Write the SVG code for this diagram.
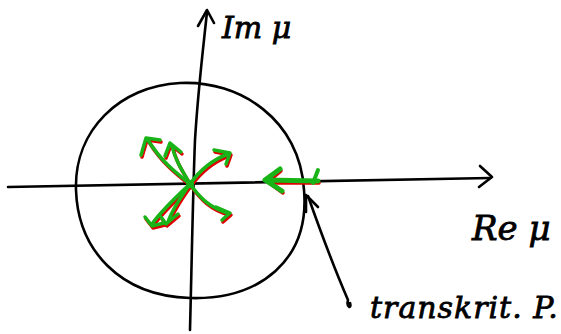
<svg xmlns="http://www.w3.org/2000/svg" width="561" height="334" viewBox="0 0 561 334">
<style>
.ink{fill:none;stroke:#000;stroke-width:2.6;stroke-linecap:round;stroke-linejoin:round}
.red{fill:none;stroke:#e00000;stroke-width:3.5;stroke-linecap:round;stroke-linejoin:round}
.grn{fill:none;stroke:#18b418;stroke-width:3.5;stroke-linecap:round;stroke-linejoin:round}
.hw{font-family:"DejaVu Serif","Liberation Serif",serif;font-style:italic;fill:#000;stroke:#000;stroke-width:0.8}
</style>
<rect width="561" height="334" fill="#fff"/>
<g id="connectors">
<path class="ink" d="M8,187 C120,186 300,182 490,178"/>
<path class="ink" d="M480,166 L492,177 L479,187"/>
<path class="ink" d="M190,330 C192,250 193,190 195,140 C198,90 203,50 207,12"/>
<path class="ink" d="M198,26 L207,10 L214,23"/>
<path class="ink" d="M350,303 C352,309 346,308 348,300 C335,270 320,230 308,196"/>
<path class="ink" d="M306,195 L306,212 M307,196 L318,207"/>
</g>
<g id="circle">
<path class="ink" d="M180,83 C240,80 300,120 304,190 C310,260 260,300 190,298 C120,296 78,250 76,190 C74,130 120,86 180,83 Z"/>
</g>
<g id="arrows">
<g transform="translate(1,2)">
<path class="red" d="M190,184 C175,172 160,160 148,140 M141,155 L146,138 L160,140"/>
<path class="red" d="M190,184 C182,170 175,160 172,146 M165,156 L170,143 L181,152"/>
<path class="red" d="M190,184 C200,170 212,160 228,154 M214,150 L230,153 L226,164"/>
<path class="red" d="M190,184 C200,198 210,208 228,213 M216,207 L230,213 L222,220"/>
<path class="red" d="M190,184 C175,198 162,210 152,224 M145,217 L152,226 L164,223"/>
<path class="red" d="M190,184 C180,198 172,210 168,222 M161,217 L166,224 L178,214"/>
<path class="red" d="M318,181 L270,181 M280,169 L267,180 L282,191"/>
</g>
<path class="grn" d="M190,184 C175,172 160,160 148,140 M141,155 L146,138 L160,140"/>
<path class="grn" d="M190,184 C182,170 175,160 172,146 M165,156 L170,143 L181,152"/>
<path class="grn" d="M190,184 C200,170 212,160 228,154 M214,150 L230,153 L226,164"/>
<path class="grn" d="M190,184 C200,198 210,208 228,213 M216,207 L230,213 L222,220"/>
<path class="grn" d="M190,184 C175,198 162,210 152,224 M145,217 L152,226 L164,223"/>
<path class="grn" d="M190,184 C180,198 172,210 168,222 M161,217 L166,224 L178,214"/>
<path class="grn" d="M318,181 L266,180 M280,169 L265,180 L282,191" style="stroke-width:5"/>
<path class="grn" d="M318,170 L313,183" style="stroke-width:4"/>
<circle cx="190" cy="184" r="4" fill="#18b418"/>
</g>
<g id="labels">
<text class="hw" x="222" y="38" font-size="30">Im μ</text>
<text class="hw" x="472" y="240" font-size="34">Re μ</text>
<text class="hw" x="370" y="318" font-size="30" letter-spacing="1">transkrit. P.</text>
</g>
</svg>
